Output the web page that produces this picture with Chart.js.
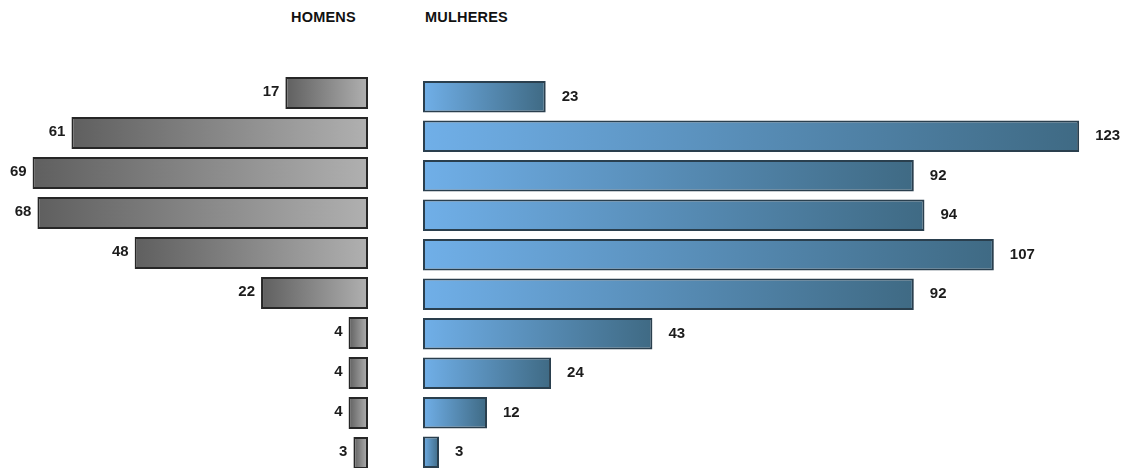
<!DOCTYPE html>
<html>
<head>
<meta charset="utf-8">
<script src="https://cdn.jsdelivr.net/npm/chart.js@4.4.1/dist/chart.umd.min.js"></script>
<style>
  html, body { margin: 0; padding: 0; background: #fff; overflow: hidden; }
  body { width: 1124px; height: 468px; position: relative; font-family: "Liberation Sans", Arial, sans-serif; }
  .titulo { position: absolute; top: 9px; font-weight: bold; font-size: 14.5px; color: #111; letter-spacing: 0.2px; }
  .painel { position: absolute; }
</style>
</head>
<body>
<div class="titulo" style="left:291px;">HOMENS</div>
<div class="titulo" style="left:425px;">MULHERES</div>
<div class="painel" style="left:0px; top:73px; width:368px; height:400px;"><canvas id="homens"></canvas></div>
<div class="painel" style="left:423px; top:77px; width:701px; height:395px;"><canvas id="mulheres"></canvas></div>
<script>
// faixas (rows from top to bottom)
const faixas = ['F1', 'F2', 'F3', 'F4', 'F5', 'F6', 'F7', 'F8', 'F9', 'F10'];
const homens = [17, 61, 69, 68, 48, 22, 4, 4, 4, 3];
const mulheres = [23, 123, 92, 94, 107, 92, 43, 24, 12, 3];

Chart.defaults.font.family = '"Liberation Sans", Arial, sans-serif';

// horizontal gradient running from the zero line to the end of each bar
function gradiente(corBase, corPonta) {
  return (ctx) => {
    const chart = ctx.chart;
    if (!chart.chartArea || ctx.type !== 'data') return corBase;
    const x = chart.scales.x;
    const x0 = x.getPixelForValue(0);
    const x1 = x.getPixelForValue(ctx.raw);
    if (!isFinite(x0) || !isFinite(x1) || x0 === x1) return corBase;
    const g = chart.ctx.createLinearGradient(x0, 0, x1, 0);
    g.addColorStop(0, corBase);
    g.addColorStop(1, corPonta);
    return g;
  };
}

// value labels at the outer end of each bar
function rotulos(gap, lado) {
  return {
    id: 'rotulos',
    afterDatasetsDraw(chart) {
      const c = chart.ctx;
      const meta = chart.getDatasetMeta(0);
      const dados = chart.data.datasets[0].data;
      c.save();
      c.font = 'bold 15px "Liberation Sans", Arial, sans-serif';
      c.fillStyle = '#1c1c1c';
      c.textBaseline = 'middle';
      meta.data.forEach((bar, i) => {
        const txt = String(dados[i]);
        if (lado === 'esq') {
          c.textAlign = 'right';
          c.fillText(txt, bar.x - gap, bar.y - 1);
        } else {
          c.textAlign = 'left';
          c.fillText(txt, bar.x + gap, bar.y);
        }
      });
      c.restore();
    }
  };
}

function opcoes(max, reverso) {
  return {
    indexAxis: 'y',
    responsive: true,
    maintainAspectRatio: false,
    animation: false,
    devicePixelRatio: 1,
    layout: { padding: 0 },
    plugins: { legend: { display: false }, tooltip: { enabled: false } },
    scales: {
      x: { display: false, min: 0, max: max, reverse: reverso, grid: { display: false } },
      y: { display: false, grid: { display: false } }
    }
  };
}

new Chart(document.getElementById('homens'), {
  type: 'bar',
  data: {
    labels: faixas,
    datasets: [{
      data: homens,
      backgroundColor: gradiente('#b0b0b0', '#5f5f5f'),
      borderColor: '#262626',
      borderWidth: 2,
      borderSkipped: false,
      barPercentage: 0.8,
      categoryPercentage: 1
    }]
  },
  options: opcoes(75.7, true),
  plugins: [rotulos(6, 'esq')]
});

new Chart(document.getElementById('mulheres'), {
  type: 'bar',
  data: {
    labels: faixas,
    datasets: [{
      data: mulheres,
      backgroundColor: gradiente('#70afe8', '#3f6a84'),
      borderColor: '#2a3f4e',
      borderWidth: 2,
      borderSkipped: false,
      barPercentage: 0.8,
      categoryPercentage: 1
    }]
  },
  options: opcoes(131.4, false),
  plugins: [rotulos(16, 'dir')]
});
</script>
</body>
</html>
